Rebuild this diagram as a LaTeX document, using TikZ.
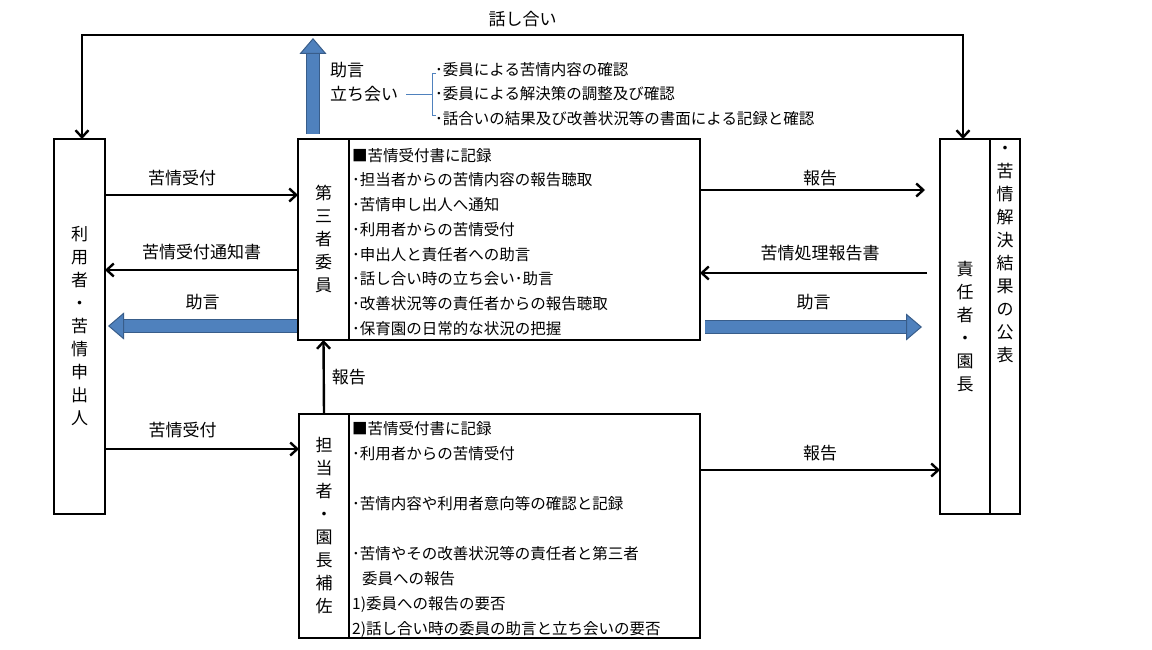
\documentclass[tikz,border=0pt]{standalone}
\usepackage{fontspec}
\setmainfont{Noto Sans CJK JP}
\usetikzlibrary{arrows.meta,calc}
\definecolor{flowblue}{RGB}{79,129,189}
\definecolor{flowbluedark}{RGB}{56,93,138}
\begin{document}
\begin{tikzpicture}[x=1pt, y=-1pt,
    box/.style={draw, line width=2pt, inner sep=0pt, outer sep=0pt},
    vtext/.style={align=center, font=\fontsize{17}{23}\selectfont},
    list/.style={align=left, anchor=north west, inner sep=0pt, font=\fontsize{15.5}{24.7}\selectfont},
    lbl/.style={font=\fontsize{17}{20}\selectfont, inner sep=0pt},
    arr/.style={line width=2.4pt, -{Straight Barb[length=7pt,width=13pt]}},
    bigarr/.style={line width=11.5pt, draw=flowblue, -{Triangle[length=16pt,width=27pt,line width=1pt,fill=flowblue,color=flowbluedark]},
        preaction={draw=flowbluedark, line width=13.5pt, arrows=-, shorten >=14pt}},
    brk/.style={draw=flowblue, line width=0.8pt}]
\useasboundingbox (0,0) rectangle (1152,650);

% boxes
\node[box, vtext, minimum width=51, minimum height=375] (user) at (79.5,326.5) {利\\用\\者\\・\\苦\\情\\申\\出\\人};

\node[box, vtext, minimum width=51, minimum height=201] (cmtename) at (323.5,239.5) {第\\三\\者\\委\\員};
\node[box, minimum width=351, minimum height=201, anchor=west] (cmtelist) at (cmtename.east) {};
\node[list] (cmteitems) at (352,148) {■苦情受付書に記録\\
    ･担当者からの苦情内容の報告聴取\\
    ･苦情申し出人へ通知\\
    ･利用者からの苦情受付\\
    ･申出人と責任者への助言\\
    ･話し合い時の立ち会い･助言\\
    ･改善状況等の責任者からの報告聴取\\
    ･保育園の日常的な状況の把握};

\node[box, vtext, minimum width=50, minimum height=224] (stname) at (324,526) {担\\当\\者\\・\\園\\長\\補\\佐};
\node[box, minimum width=351, minimum height=224, anchor=west] (stlist) at (stname.east) {};
\node[list, font=\fontsize{15.5}{25}\selectfont] (stitems) at (352,421) {■苦情受付書に記録\\
    ･利用者からの苦情受付\\[25pt]
    ･苦情内容や利用者意向等の確認と記録\\[25pt]
    ･苦情やその改善状況等の責任者と第三者\\
    \hspace*{10pt}委員への報告\\
    1)委員への報告の要否\\
    2)話し合い時の委員の助言と立ち会いの要否};

\node[box, vtext, minimum width=50, minimum height=375] (head) at (965,326.5) {責\\任\\者\\・\\園\\長};
\node[box, minimum width=30, minimum height=375, anchor=west] (pub) at (head.east) {};
\node[vtext] (pubtext) at (1005,255) {・\\苦\\情\\解\\決\\結\\果\\の\\公\\表};

% talk between user and head
\draw[line width=2.4pt, {Straight Barb[length=7pt,width=13pt]}-{Straight Barb[length=7pt,width=13pt]}]
    ([xshift=2.5pt]user.north) -- ++(0,-104) -| ([xshift=-2pt]head.north) node[lbl, pos=.25, yshift=16pt] {話し合い};

% advice / attendance
\draw[bigarr] ($(cmtename.north west)+(15,-5)$) -- ($(cmtename.north west)+(15,-101)$);
\node[lbl, anchor=west] (advice) at (330,70) {助言};
\node[lbl, anchor=west] (attend) at (330,94) {立ち会い};
\coordinate (bracket) at (432,94);
\draw[brk] ([xshift=8pt]attend.east) -- (bracket);
\draw[brk] ([shift={(4,-21)}]bracket) -- ++(-4,0) -- ++(0,42) -- ++(4,0);
\node[list, font=\fontsize{15.5}{24.5}\selectfont] (talkitems) at (435,62) {･委員による苦情内容の確認\\
    ･委員による解決策の調整及び確認\\
    ･話合いの結果及び改善状況等の書面による記録と確認};

% left side
\draw[arr] (user.east |- 0,195) -- (cmtename.west |- 0,195) node[lbl, pos=.4, yshift=17pt] {苦情受付};
\draw[arr] (cmtename.west |- 0,270) -- (user.east |- 0,270) node[lbl, midway, yshift=18pt] {苦情受付通知書};
\draw[bigarr] ($(cmtename.west |- 0,326)+(-1,0)$) -- ($(user.east |- 0,326)+(3,0)$) node[lbl, midway, yshift=24pt] {助言};
\draw[arr] (user.east |- 0,449) -- (stname.west |- 0,449) node[lbl, pos=.4, yshift=19pt] {苦情受付};

% right side
\draw[arr, shorten >=15pt] (cmtelist.east |- 0,190) -- (head.west |- 0,190) node[lbl, midway, yshift=12pt] {報告};
\draw[arr, shorten <=13pt] (head.west |- 0,273) -- (cmtelist.east |- 0,273) node[lbl, midway, yshift=20pt] {苦情処理報告書};
\draw[bigarr] ($(cmtelist.east |- 0,327)+(5,0)$) -- ($(head.west |- 0,327)+(-18,0)$) node[lbl, midway, yshift=25pt] {助言};
\draw[arr] (stlist.east |- 0,470) -- (head.west |- 0,470) node[lbl, midway, yshift=17pt] {報告};

% staff to committee
\draw[arr] (stname.north) -- (cmtename.south) node[lbl, midway, right=7pt] {報告};

\end{tikzpicture}
\end{document}
